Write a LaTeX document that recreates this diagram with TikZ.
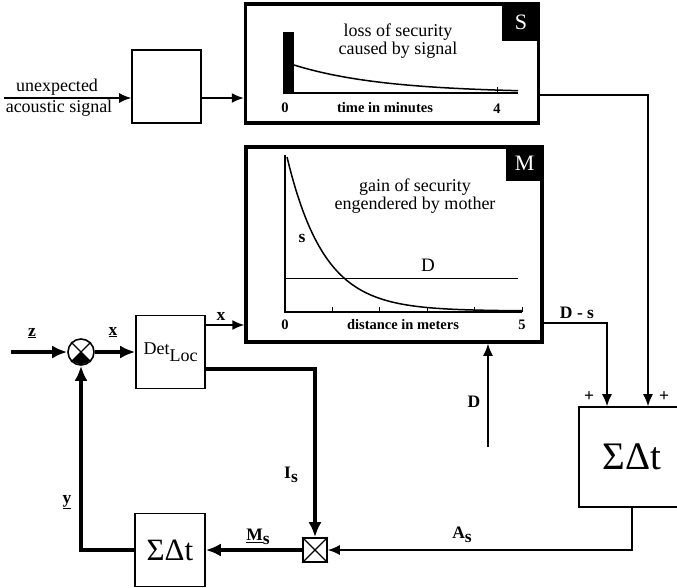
\documentclass[tikz,border=0pt]{standalone}
\usepackage{fontspec}
\setmainfont{Liberation Serif}
\usetikzlibrary{arrows.meta, positioning}

\begin{document}
\begin{tikzpicture}[
            x = 1pt, y = -1pt,
            font = \fontsize{18}{18.5}\selectfont,
            block/.style = {
                rectangle,
                draw         = black,
                line width   = 1.6pt,
                fill         = white,
                inner sep    = 0pt
            },
            plotbox/.style = {
                rectangle,
                draw         = black,
                line width   = 3.5pt,
                inner sep    = 0pt
            },
            tag/.style = {
                rectangle,
                fill         = black,
                text         = white,
                inner sep    = 0pt,
                minimum width = 38pt,
                font         = \fontsize{22}{22}\selectfont
            },
            lbl/.style     = {font = \fontsize{17.5}{19}\selectfont\bfseries, inner sep = 1pt},
            axislbl/.style = {font = \fontsize{14.5}{15}\selectfont\bfseries, inner sep = 0pt},
            flow/.style      = {line width = 1.5pt, -{Latex[length = 12pt, width = 10pt]}},
            thickflow/.style = {line width = 4pt, -{Latex[length = 15pt, width = 13pt]}}
        ]

            \useasboundingbox (0,0) rectangle (677,587);

            % blocks
            \node[block, minimum width = 69pt, minimum height = 73pt] (sensor) at (166.5,86.5) {};
            \node[plotbox, minimum width = 293pt, minimum height = 119pt] (lossbox) at (392,63.5) {};
            \node[tag, minimum height = 39pt, anchor = north east] (stag) at (lossbox.north east) {S};
            \node[plotbox, minimum width = 296pt, minimum height = 195pt] (gainbox) at (394,244.5) {};
            \node[tag, minimum height = 36pt, anchor = north east] (mtag) at (gainbox.north east) {M};
            \node[block, minimum width = 69pt, minimum height = 73pt] (detloc) at (170.5,352) {Det\raisebox{-7pt}{Loc}};
            \node[circle, draw = black, line width = 1.6pt, fill = white, minimum size = 26pt, inner sep = 0pt] (comparator) at (81,352) {};
            \node[block, minimum width = 24pt, minimum height = 24pt] (mixer) at (315,550) {};
            \node[block, minimum width = 70pt, minimum height = 73pt, font = \fontsize{31}{31}\selectfont] (intM) at (170,550) {ΣΔt};
            \node[block, minimum width = 106pt, minimum height = 100pt, font = \fontsize{39}{39}\selectfont] (intA) at (632,457) {ΣΔt};

            % comparator and mixer marks
            \begin{scope}
                \clip (comparator.center) circle[radius = 12.2];
                \fill (comparator.center) -- ++(-20,20) -- ++(40,0) -- cycle;
            \end{scope}
            \draw[line width = 1.4pt] (comparator.45) -- (comparator.225);
            \draw[line width = 1.4pt] (comparator.135) -- (comparator.315);
            \draw[line width = 1.2pt] (mixer.north west) -- (mixer.south east);
            \draw[line width = 1.2pt] (mixer.north east) -- (mixer.south west);

            % loss of security plot
            \fill (283,32) rectangle (294,93);
            \draw[line width = 1.5pt] (283,93) -- (518,93);
            \draw[line width = 1pt] (497,93) -- ++(0,-6);
            \draw[line width = 1.5pt, domain = 294:518, samples = 40, smooth]
                plot (\x, {93 - 28*exp(-(\x-294)/90)});
            \node[align = center] (losstitle) at (398,41) {loss of security\\caused by signal};
            \node[axislbl] (t0) at (285,108) {0};
            \node[axislbl] (tlbl) at (385,108) {time in minutes};
            \node[axislbl] (t4) at (497,109) {4};

            % gain of security plot
            \draw[line width = 1.5pt] (285,155) -- (285,312) -- (522,312);
            \foreach \t in {0,...,5}
                \draw[line width = 1pt] ({285+47.4*\t},312) -- ++(0,-5);
            \draw[line width = 0.8pt] (285,278) -- (518,278);
            \draw[line width = 1.5pt, domain = 287:522, samples = 60, smooth]
                plot (\x, {311 - 154*exp(-(\x-287)/37)});
            \node[align = center] (gaintitle) at (415,196) {gain of security\\engendered by mother};
            \node[lbl] (slbl) at (302,238) {s};
            \node[font = \fontsize{19}{19}\selectfont] (dlevel) at (428,265) {D};
            \node[axislbl] (d0) at (285,325) {0};
            \node[axislbl] (dlbl) at (403,325) {distance in meters};
            \node[axislbl] (d5) at (522,325) {5};

            % signal path
            \coordinate (sigin) at (4,98);
            \coordinate (sbus)  at (648,95);
            \node[inner sep = 0pt] (sigtop) at (57,87) {unexpected};
            \node[inner sep = 0pt] (sigbot) at (59,108) {acoustic signal};
            \draw[flow] (sigin) -- (sigin -| sensor.west);
            \draw[flow] (sigin -| sensor.east) -- (sigin -| lossbox.west);
            \draw[flow] (lossbox.east |- sbus) -- (sbus) -- (sbus |- intA.north);

            % mother path
            \coordinate (xline) at (0,325);
            \coordinate (iline) at (0,369);
            \coordinate (dsbus) at (607,323);
            \coordinate (Din)   at (488,447);
            \draw[flow] (detloc.east |- xline) -- (gainbox.west |- xline);
            \draw[flow] (gainbox.east |- dsbus) -- (dsbus) -- (dsbus |- intA.north);
            \draw[flow] (Din) -- (Din |- gainbox.south);
            \draw[thickflow] (detloc.east |- iline) -| (mixer.north);
            \draw[flow] (intA.south) |- (mixer.east);
            \draw[thickflow] (mixer.west) -- (intM.east);
            \draw[thickflow] (intM.west) -| (comparator.south);

            % loop input
            \coordinate (zin) at (11,352);
            \draw[thickflow] (zin) -- (comparator.west);
            \draw[thickflow] (comparator.east) -- (detloc.west);

            % labels
            \node[lbl] (zlbl)  at (32,333)  {\underline{z}};
            \node[lbl] (xulbl) at (113,332) {\underline{x}};
            \node[lbl] (xlbl)  at (221,316) {x};
            \node[lbl] (dslbl) at (577,313) {D - s};
            \node[lbl] (plus1) at (589,397) {+};
            \node[lbl] (plus2) at (664,397) {+};
            \node[lbl] (dlbl2) at (474,402) {D};
            \node[lbl] (islbl) at (291,475) {I\raisebox{-4pt}{s}};
            \node[lbl] (aslbl) at (462,535) {A\raisebox{-4pt}{s}};
            \node[lbl] (mslbl) at (258,537) {\underline{M}\raisebox{-4pt}{s}};
            \node[lbl] (ylbl)  at (67,502)  {\underline{y}};
        \end{tikzpicture}
\end{document}
